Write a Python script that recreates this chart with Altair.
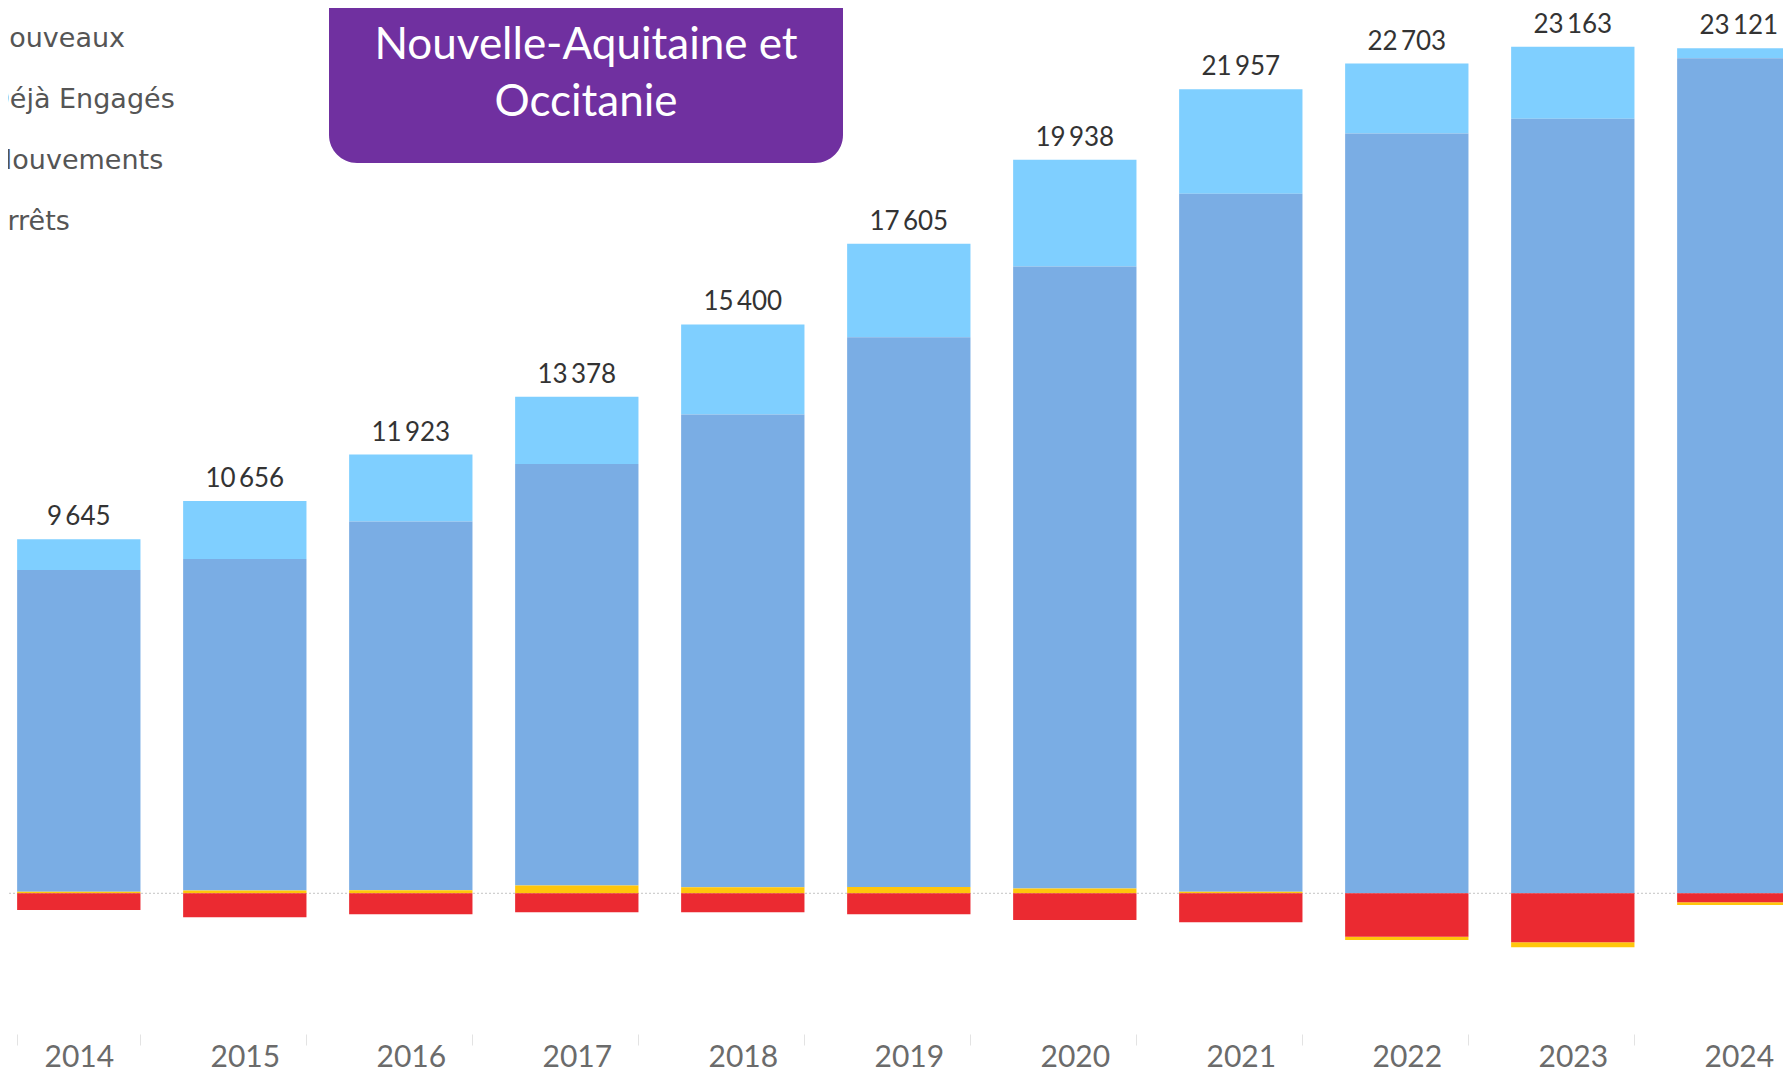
import altair as alt
import pandas as pd

# ---- data ----
years = ["2014", "2015", "2016", "2017", "2018", "2019", "2020", "2021", "2022", "2023", "2024"]
totals = [9645, 10656, 11923, 13378, 15400, 17605, 19938, 21957, 22703, 23163, 23121]
nouveaux = [840, 1587, 1833, 1845, 2462, 2564, 2919, 2854, 1915, 1970, 274]
deja_engages = [8805, 9069, 10090, 11533, 12938, 15041, 17019, 19103, 20788, 21193, 22847]
mouvements = [40, 75, 80, 210, 165, 170, 130, 40, -90, -137, -74]
arrets = [-457, -657, -575, -520, -520, -575, -730, -793, -1187, -1341, -246]

series_names = ["Nouveaux", "Déjà Engagés", "Mouvements", "Arrêts"]
series_colors = ["#7FCFFF", "#7AADE4", "#FFC60B", "#EB2A31"]
stack_rank = {"Arrêts": 0, "Mouvements": 1, "Déjà Engagés": 2, "Nouveaux": 3}
title_text = "Nouvelle-Aquitaine et\nOccitanie"

rows = []
for i, yr in enumerate(years):
    for name, vals in zip(series_names, [nouveaux, deja_engages, mouvements, arrets]):
        rows.append({"Année": yr, "Série": name, "Valeur": vals[i], "ordre": stack_rank[name]})
df = pd.DataFrame(rows)

lab = pd.DataFrame({
    "Année": years,
    "top": [t + max(m, 0) for t, m in zip(totals, mouvements)],
    "label": [f"{t:,}".replace(",", "\u2009") for t in totals],
})
zero_df = pd.DataFrame({"zero": [0]})
title_df = pd.DataFrame({"titre": [title_text]})

x_scale = alt.Scale(domain=years, range=[-12.2, 1813.8], paddingInner=0.257, paddingOuter=0.1285)
y_scale = alt.Scale(domain=[-3850, 24222], nice=False, zero=False)
x_axis = alt.Axis(title=None, tickBand="extent", ticks=True, tickSize=11, tickColor="#e3e3e3",
                  tickWidth=1, domain=False, grid=False, labelFont="Lato", labelFontSize=30,
                  labelColor="#6b6b6b", labelPadding=21, labelBaseline="alphabetic", labelAngle=0)

zero_rule = alt.Chart(zero_df).mark_rule(color="#c4c4c4", strokeDash=[2, 2], strokeWidth=1).encode(
    y=alt.Y("zero:Q", scale=y_scale, axis=None)
)

bars = alt.Chart(df).mark_bar().encode(
    x=alt.X("Année:N", scale=x_scale, axis=x_axis),
    y=alt.Y("Valeur:Q", scale=y_scale, axis=None, stack="zero"),
    color=alt.Color("Série:N", scale=alt.Scale(domain=series_names, range=series_colors),
                    legend=alt.Legend(title=None, orient="none", legendX=-52, legendY=17,
                                      direction="vertical", labelFont="DejaVu Sans", labelFontSize=27,
                                      labelColor="#555555", symbolType="square", symbolSize=196,
                                      labelOffset=6, rowPadding=33, labelLimit=400, padding=0)),
    order=alt.Order("ordre:Q", sort="ascending"),
)

labels = alt.Chart(lab).mark_text(dy=-14, baseline="alphabetic", font="Lato", fontSize=26,
                                  color="#333333").encode(
    x=alt.X("Année:N", scale=x_scale, axis=x_axis),
    y=alt.Y("top:Q", scale=y_scale, axis=None),
    text="label:N",
)

box = alt.Chart(title_df).mark_rect(color="#7030A0", cornerRadius=28).encode(
    x=alt.value(321), x2=alt.value(835), y=alt.value(-40), y2=alt.value(155)
)

title = alt.Chart(title_df).mark_text(font="Lato", fontSize=44, color="white", lineHeight=57,
                                      lineBreak="\n", baseline="middle", align="center").encode(
    x=alt.value(578), y=alt.value(38), text="titre:N"
)

chart = alt.layer(zero_rule, bars, labels, box, title).properties(
    width=1775, height=1026,
    autosize=alt.AutoSizeParams(type="none"),
    padding={"left": 0, "top": 0, "right": 0, "bottom": 34},
).configure(background="white").configure_view(stroke=None)

chart.save("out.html", embed_options={"renderer": "svg", "actions": False})
